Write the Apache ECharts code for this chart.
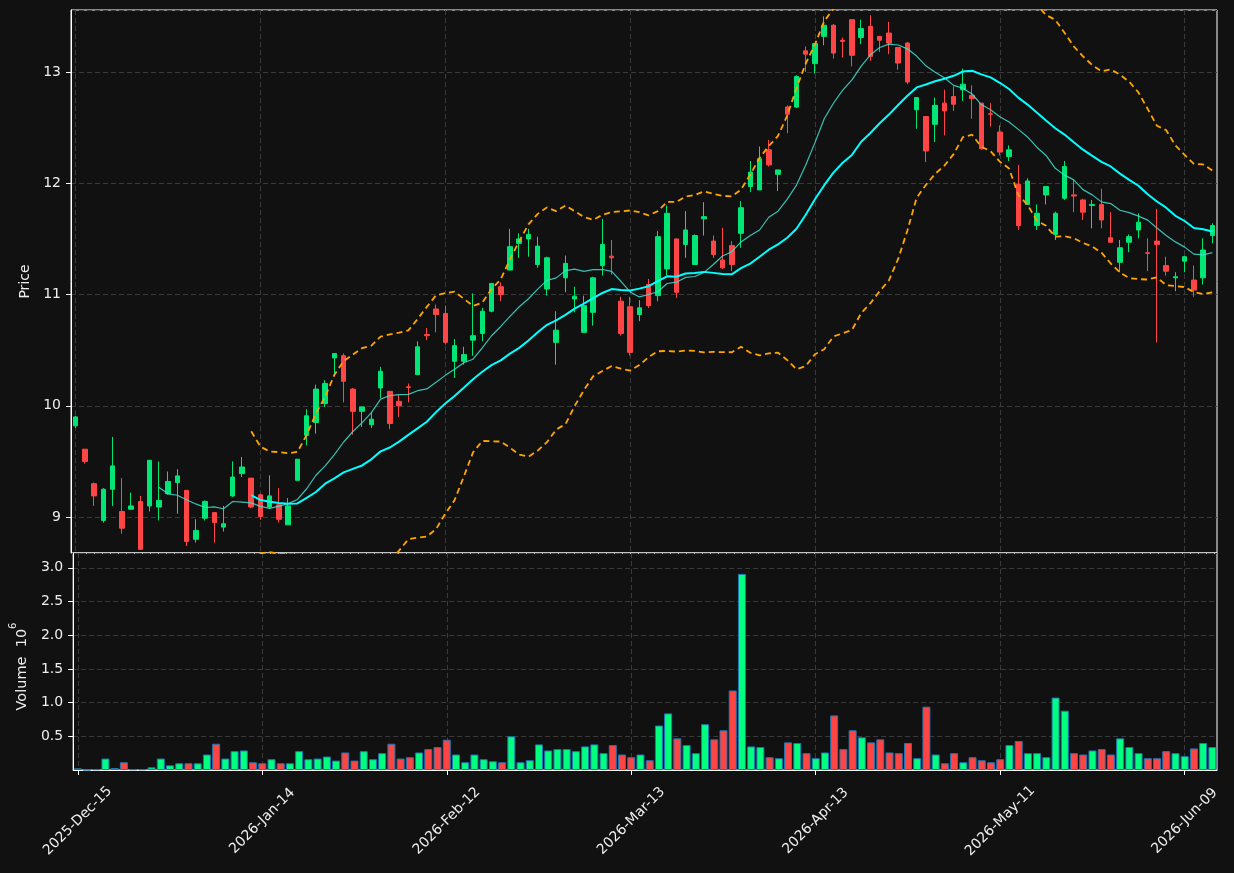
<!DOCTYPE html>
<html>
<head>
<meta charset="utf-8">
<script src="https://cdn.jsdelivr.net/npm/echarts@6/dist/echarts.min.js"></script>
<style>
  html, body { margin: 0; padding: 0; background: #111111; }
  #chart { width: 1234px; height: 873px; }
</style>
</head>
<body>
<div id="chart"></div>
<script>
// trading days from 2025-12-15, exchange holidays skipped
const startDay = '2025-12-15';
const holidays = ['2025-12-25', '2026-01-01', '2026-01-19', '2026-02-16', '2026-04-03', '2026-05-25'];
const labelEvery = 20;

const opens = [9.82, 9.61, 9.30, 8.97, 9.25, 9.05, 9.07, 9.14, 9.10, 9.09,
  9.21, 9.31, 9.24, 8.80, 8.99, 9.04, 8.91, 9.19, 9.39, 9.35,
  9.20, 9.09, 9.11, 8.93, 9.33, 9.735, 9.85, 10.02, 10.43, 10.45,
  10.15, 9.95, 9.83, 10.16, 10.13, 10.04, 10.17, 10.28, 10.64, 10.87,
  10.83, 10.40, 10.40, 10.59, 10.65, 10.85, 11.07, 11.22, 11.46, 11.50,
  11.27, 11.05, 10.57, 11.15, 10.96, 10.66, 10.84, 11.26, 11.345, 10.94,
  10.89, 10.82, 11.09, 10.99, 11.23, 11.50, 11.45, 11.27, 11.68, 11.48,
  11.31, 11.44, 11.55, 11.97, 11.94, 12.30, 12.08, 12.685, 12.685, 13.19,
  13.075, 13.32, 13.42, 13.285, 13.47, 13.31, 13.41, 13.32, 13.35, 13.22,
  13.26, 12.66, 12.60, 12.53, 12.72, 12.78, 12.84, 12.79, 12.72, 12.625,
  12.46, 12.24, 11.99, 11.81, 11.62, 11.895, 11.54, 11.865, 11.895, 11.85,
  11.80, 11.81, 11.51, 11.29, 11.47, 11.58, 11.375, 11.48, 11.26, 11.15,
  11.30, 11.13, 11.15, 11.53];
const closes = [9.90, 9.50, 9.19, 9.25, 9.46, 8.90, 9.10, 8.71, 9.51, 9.15,
  9.32, 9.37, 8.78, 8.88, 9.14, 8.95, 8.94, 9.36, 9.45, 9.09,
  9.005, 9.19, 8.98, 9.10, 9.52, 9.91, 10.15, 10.20, 10.47, 10.22,
  9.95, 9.99, 9.88, 10.31, 9.84, 10.00, 10.165, 10.53, 10.63, 10.82,
  10.57, 10.54, 10.46, 10.63, 10.85, 11.10, 11.00, 11.43, 11.50, 11.54,
  11.435, 11.33, 10.68, 11.28, 10.985, 10.90, 11.15, 11.45, 11.33, 10.65,
  10.48, 10.88, 10.90, 11.52, 11.73, 11.02, 11.58, 11.53, 11.70, 11.36,
  11.24, 11.27, 11.78, 12.10, 12.22, 12.165, 12.12, 12.62, 12.96, 13.16,
  13.255, 13.42, 13.17, 13.275, 13.15, 13.39, 13.14, 13.285, 13.26, 13.08,
  12.91, 12.77, 12.29, 12.70, 12.65, 12.71, 12.89, 12.76, 12.31, 12.62,
  12.28, 12.30, 11.62, 12.02, 11.73, 11.97, 11.73, 12.15, 11.885, 11.74,
  11.81, 11.67, 11.47, 11.42, 11.52, 11.65, 11.37, 11.45, 11.21, 11.16,
  11.34, 11.04, 11.40, 11.62];
const lows = [9.80, 9.48, 9.10, 8.95, 9.10, 8.85, 9.07, 8.71, 9.05, 8.97,
  9.20, 9.03, 8.74, 8.77, 8.97, 8.77, 8.87, 9.18, 9.36, 9.08,
  8.975, 9.08, 8.95, 8.93, 9.33, 9.645, 9.75, 9.99, 10.29, 10.03,
  9.74, 9.81, 9.80, 10.07, 9.79, 9.90, 10.03, 10.28, 10.59, 10.66,
  10.55, 10.25, 10.37, 10.45, 10.58, 10.84, 10.94, 11.22, 11.33, 11.34,
  11.24, 10.99, 10.37, 11.02, 10.84, 10.66, 10.72, 11.17, 11.18, 10.63,
  10.45, 10.76, 10.88, 10.94, 11.17, 10.97, 11.33, 11.27, 11.53, 11.33,
  11.23, 11.21, 11.42, 11.92, 11.94, 12.15, 11.93, 12.45, 12.675, 13.00,
  12.985, 13.24, 13.12, 13.13, 13.05, 13.25, 13.10, 13.18, 13.16, 13.02,
  12.89, 12.49, 12.19, 12.37, 12.43, 12.65, 12.74, 12.58, 12.30, 12.51,
  12.25, 12.20, 11.58, 11.81, 11.58, 11.81, 11.49, 11.85, 11.74, 11.67,
  11.595, 11.595, 11.47, 11.20, 11.38, 11.505, 11.21, 10.57, 11.17, 11.03,
  11.20, 10.98, 11.09, 11.46];
const highs = [9.91, 9.61, 9.31, 9.26, 9.72, 9.35, 9.22, 9.19, 9.51, 9.50,
  9.41, 9.43, 9.24, 8.98, 9.15, 9.04, 9.10, 9.50, 9.54, 9.35,
  9.21, 9.375, 9.26, 9.17, 9.52, 9.97, 10.19, 10.23, 10.47, 10.47,
  10.16, 9.99, 9.94, 10.35, 10.13, 10.10, 10.20, 10.58, 10.70, 10.91,
  10.90, 10.60, 10.53, 11.01, 10.88, 11.10, 11.11, 11.59, 11.55, 11.59,
  11.52, 11.34, 10.85, 11.35, 11.07, 10.99, 11.16, 11.68, 11.49, 10.98,
  10.98, 10.95, 11.14, 11.57, 11.80, 11.50, 11.75, 11.54, 11.83, 11.53,
  11.60, 11.48, 11.84, 12.20, 12.33, 12.39, 12.12, 12.70, 12.97, 13.23,
  13.26, 13.50, 13.43, 13.31, 13.47, 13.47, 13.51, 13.32, 13.45, 13.22,
  13.27, 12.77, 12.60, 12.77, 12.84, 12.87, 13.03, 12.88, 12.72, 12.72,
  12.52, 12.34, 12.165, 12.045, 11.81, 11.97, 11.745, 12.20, 12.03, 11.86,
  11.85, 11.95, 11.74, 11.49, 11.54, 11.73, 11.505, 11.77, 11.34, 11.20,
  11.35, 11.26, 11.505, 11.64];
// volume in millions
const volumes = [0.025, 0.003, 0.01, 0.17, 0.03, 0.115, 0.01, 0.01, 0.04, 0.17,
  0.07, 0.10, 0.10, 0.10, 0.23, 0.39, 0.17, 0.28, 0.29, 0.115,
  0.10, 0.16, 0.10, 0.10, 0.28, 0.16, 0.17, 0.20, 0.14, 0.26,
  0.14, 0.28, 0.16, 0.25, 0.39, 0.17, 0.19, 0.26, 0.31, 0.34,
  0.45, 0.23, 0.115, 0.23, 0.16, 0.13, 0.115, 0.50, 0.115, 0.145,
  0.38, 0.29, 0.31, 0.31, 0.28, 0.35, 0.38, 0.25, 0.37, 0.23,
  0.19, 0.23, 0.145, 0.66, 0.84, 0.47, 0.37, 0.25, 0.68, 0.455,
  0.59, 1.18, 2.91, 0.35, 0.34, 0.19, 0.175, 0.41, 0.40, 0.25,
  0.175, 0.26, 0.81, 0.31, 0.59, 0.485, 0.41, 0.455, 0.26, 0.25,
  0.40, 0.175, 0.94, 0.23, 0.10, 0.25, 0.115, 0.19, 0.145, 0.115,
  0.16, 0.37, 0.43, 0.25, 0.25, 0.19, 1.075, 0.88, 0.25, 0.23,
  0.29, 0.31, 0.23, 0.47, 0.34, 0.25, 0.175, 0.175, 0.28, 0.25,
  0.205, 0.32, 0.40, 0.34];

const upColor = '#00e676', downColor = '#ff4545';
const upVol = '#00ff7f', downVol = '#ff4444';
const textColor = '#eeeeee';
const gridColor = '#3a3a3a';

function buildDates(start, n) {
  const mon = ['Jan','Feb','Mar','Apr','May','Jun','Jul','Aug','Sep','Oct','Nov','Dec'];
  const p = start.split('-').map(Number);
  let t = Date.UTC(p[0], p[1] - 1, p[2]);
  const out = [];
  while (out.length < n) {
    const d = new Date(t);
    const iso = d.toISOString().slice(0, 10);
    const wd = d.getUTCDay();
    if (wd !== 0 && wd !== 6 && holidays.indexOf(iso) < 0) {
      out.push(d.getUTCFullYear() + '-' + mon[d.getUTCMonth()] + '-' + String(d.getUTCDate()).padStart(2, '0'));
    }
    t += 86400000;
  }
  return out;
}

function sma(arr, n) {
  return arr.map((v, i) => {
    if (i < n - 1) return '-';
    let s = 0;
    for (let k = i - n + 1; k <= i; k++) s += arr[k];
    return s / n;
  });
}

function bands(arr, n, k) {
  const mid = sma(arr, n), up = [], lo = [];
  arr.forEach((v, i) => {
    if (i < n - 1) { up.push('-'); lo.push('-'); return; }
    let ss = 0;
    for (let j = i - n + 1; j <= i; j++) ss += (arr[j] - mid[i]) * (arr[j] - mid[i]);
    const sd = Math.sqrt(ss / n);
    up.push(mid[i] + k * sd);
    lo.push(mid[i] - k * sd);
  });
  return [up, lo];
}

const dates = buildDates(startDay, closes.length);
const ohlc = closes.map((c, i) => [opens[i], c, lows[i], highs[i]]);
const ma10 = sma(closes, 10);
const ma20 = sma(closes, 20);
const bb = bands(closes, 20, 2);
const volData = volumes.map((v, i) => ({
  value: v,
  itemStyle: {color: closes[i] >= opens[i] ? upVol : downVol}
}));

const showIdx = (idx) => idx % labelEvery === 0;

let myChart = echarts.init(document.getElementById('chart'));
let options = {
  backgroundColor: '#111111',
  animation: false,
  textStyle: {fontFamily: 'DejaVu Sans'},
  grid: [
    {left: 71, right: 17, top: 10, height: 543, show: true, borderColor: '#ffffff', borderWidth: 1, backgroundColor: 'transparent'},
    {left: 71, right: 17, top: 553, height: 217, show: true, borderColor: '#ffffff', borderWidth: 1, backgroundColor: 'transparent'}
  ],
  xAxis: [
    {
      type: 'category',
      gridIndex: 0,
      data: dates,
      boundaryGap: true,
      axisLine: {show: false},
      axisTick: {show: false},
      axisLabel: {show: false},
      splitLine: {show: true, interval: showIdx, alignWithLabel: true, lineStyle: {color: gridColor, type: [5, 3]}}
    },
    {
      type: 'category',
      gridIndex: 1,
      data: dates,
      boundaryGap: true,
      axisLine: {show: true, lineStyle: {color: '#ffffff'}},
      axisTick: {show: true, alignWithLabel: true, interval: showIdx, length: 5, lineStyle: {color: '#ffffff'}},
      axisLabel: {
        interval: showIdx, rotate: 45, color: textColor, fontSize: 14,
        align: 'center', verticalAlign: 'middle', margin: 51
      },
      splitLine: {show: true, interval: showIdx, alignWithLabel: true, lineStyle: {color: gridColor, type: [5, 3]}}
    }
  ],
  yAxis: [
    {
      type: 'value',
      gridIndex: 0,
      min: 8.677,
      max: 13.557,
      name: 'Price',
      nameLocation: 'middle',
      nameGap: 35,
      nameTextStyle: {color: textColor, fontSize: 14},
      axisLine: {show: true, lineStyle: {color: '#ffffff'}},
      axisTick: {show: true, length: 5, lineStyle: {color: '#ffffff'}},
      axisLabel: {color: textColor, fontSize: 14, margin: 10, showMinLabel: false, showMaxLabel: false},
      splitLine: {show: true, lineStyle: {color: gridColor, type: [5, 3]}}
    },
    {
      type: 'value',
      gridIndex: 1,
      min: 0,
      max: 3.22,
      interval: 0.5,
      name: '{v|Volume  10}{s|6}',
      nameLocation: 'middle',
      nameGap: 42,
      nameTextStyle: {
        color: textColor,
        padding: [0, 10, 0, 0],
        rich: {
          v: {color: textColor, fontSize: 14.5, lineHeight: 22, verticalAlign: 'bottom'},
          s: {color: textColor, fontSize: 10, lineHeight: 22, verticalAlign: 'top'}
        }
      },
      axisLine: {show: true, lineStyle: {color: '#ffffff'}},
      axisTick: {show: true, length: 5, lineStyle: {color: '#ffffff'}},
      axisLabel: {
        color: textColor, fontSize: 14, margin: 10, showMinLabel: false, showMaxLabel: false,
        formatter: (v) => v.toFixed(1)
      },
      splitLine: {show: true, lineStyle: {color: gridColor, type: [5, 3]}}
    }
  ],
  series: [
    {
      name: 'candles',
      type: 'candlestick',
      xAxisIndex: 0,
      yAxisIndex: 0,
      barWidth: 5,
      data: ohlc,
      itemStyle: {
        color: upColor, color0: downColor,
        borderColor: upColor, borderColor0: downColor,
        borderWidth: 1
      }
    },
    {
      name: 'MA10',
      type: 'line',
      xAxisIndex: 0,
      yAxisIndex: 0,
      data: ma10,
      showSymbol: false,
      lineStyle: {color: '#40e0d0', width: 1.2, opacity: 0.85}
    },
    {
      name: 'MA20',
      type: 'line',
      xAxisIndex: 0,
      yAxisIndex: 0,
      data: ma20,
      showSymbol: false,
      lineStyle: {color: '#00ffff', width: 2}
    },
    {
      name: 'BB upper',
      type: 'line',
      xAxisIndex: 0,
      yAxisIndex: 0,
      data: bb[0],
      showSymbol: false,
      lineStyle: {color: '#ffa500', width: 1.8, type: [6, 4]}
    },
    {
      name: 'BB lower',
      type: 'line',
      xAxisIndex: 0,
      yAxisIndex: 0,
      data: bb[1],
      showSymbol: false,
      lineStyle: {color: '#ffa500', width: 1.8, type: [6, 4]}
    },
    {
      name: 'Volume',
      type: 'bar',
      xAxisIndex: 1,
      yAxisIndex: 1,
      barWidth: 8,
      data: volData,
      itemStyle: {borderColor: '#1f77b4', borderWidth: 1}
    }
  ]
};
myChart.setOption(options);
</script>
</body>
</html>
